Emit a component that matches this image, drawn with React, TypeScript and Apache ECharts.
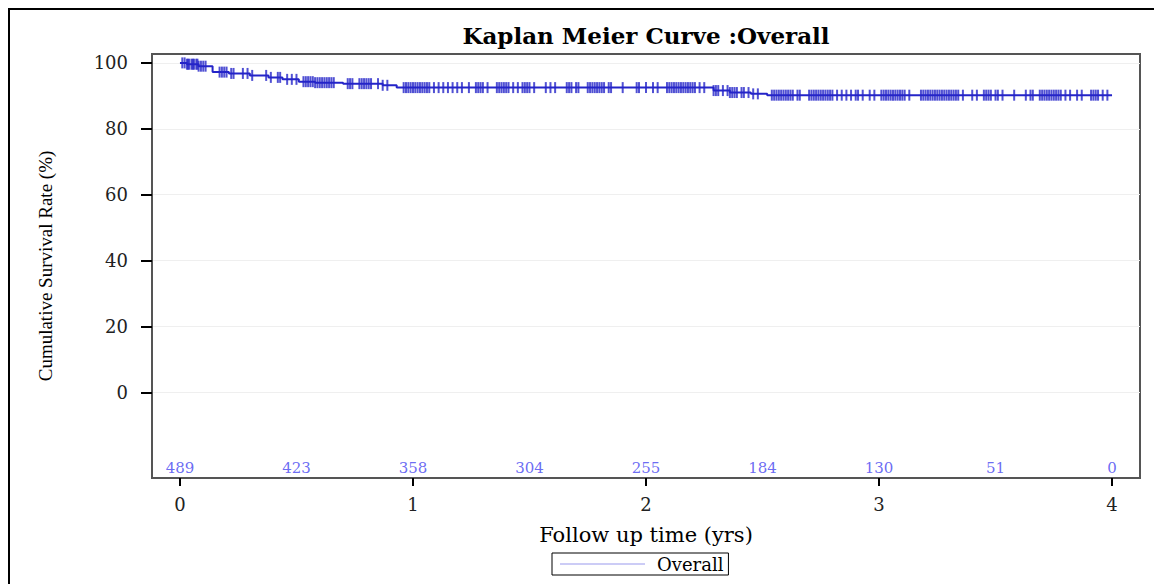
import React, { useEffect, useRef } from "react";
import * as echarts from "echarts";

const title = "Kaplan Meier Curve :Overall";
const xName = "Follow up time (yrs)";
const yName = "Cumulative Survival Rate (%)";
const seriesName = "Overall";

const xTicks = [0, 1, 2, 3, 4];
const yTicks = [0, 20, 40, 60, 80, 100];

// step points of the survival curve (time in years, survival %)
const eventTimes = [0, 0.03, 0.08, 0.14, 0.21, 0.3, 0.38, 0.44, 0.51, 0.58, 0.7, 0.87, 0.93, 2.29, 2.36, 2.45, 2.52, 4.0];
const survival = [100, 99.6, 99.0, 97.2, 96.8, 96.2, 95.6, 95.0, 94.3, 94.0, 93.7, 93.2, 92.5, 91.6, 91.0, 90.6, 90.2, 90.2];

// censored observation times
const censorTimes = [
  0.01, 0.02, 0.03, 0.035, 0.04, 0.05, 0.055, 0.06, 0.07, 0.075, 0.08, 0.09, 0.1, 0.11,
  0.17, 0.18, 0.19, 0.2, 0.22, 0.23,
  0.27, 0.29, 0.31, 0.37, 0.39, 0.42, 0.43, 0.46, 0.48, 0.5,
  0.53, 0.54, 0.55, 0.56, 0.57, 0.58, 0.59, 0.6, 0.61, 0.62, 0.63, 0.64, 0.65, 0.66,
  0.72, 0.73, 0.74, 0.77, 0.78, 0.79, 0.8, 0.81, 0.82, 0.85, 0.87, 0.89,
  0.96, 0.97, 0.98, 0.99, 1.0, 1.01, 1.02, 1.03, 1.04, 1.05, 1.06, 1.07, 1.09, 1.11, 1.13, 1.15, 1.17, 1.19, 1.21,
  1.24, 1.27, 1.28, 1.29, 1.3, 1.32, 1.36, 1.37, 1.38, 1.39, 1.4, 1.41, 1.43, 1.45, 1.47, 1.48, 1.49, 1.5, 1.52,
  1.57, 1.59, 1.61, 1.66, 1.67, 1.68, 1.7, 1.71, 1.75, 1.76, 1.77, 1.78, 1.79, 1.8, 1.81, 1.82, 1.84, 1.85,
  1.9, 1.96, 1.97, 2.0, 2.03, 2.05, 2.09, 2.1, 2.11, 2.12, 2.13, 2.14, 2.15, 2.16, 2.17, 2.18, 2.19, 2.2, 2.21, 2.23, 2.25,
  2.29, 2.3, 2.31, 2.33, 2.35, 2.36, 2.37, 2.38, 2.39, 2.41, 2.42, 2.44, 2.46, 2.48,
  2.54, 2.55, 2.56, 2.57, 2.58, 2.59, 2.6, 2.61, 2.62, 2.63, 2.65, 2.66,
  2.7, 2.71, 2.72, 2.73, 2.74, 2.75, 2.76, 2.77, 2.78, 2.79, 2.8, 2.82, 2.84, 2.86, 2.88, 2.9, 2.91, 2.93, 2.96, 2.98,
  3.01, 3.02, 3.03, 3.04, 3.05, 3.06, 3.07, 3.08, 3.09, 3.1, 3.11, 3.13,
  3.18, 3.19, 3.2, 3.21, 3.22, 3.23, 3.24, 3.25, 3.26, 3.27, 3.28, 3.29, 3.3, 3.31, 3.32, 3.33, 3.34, 3.36,
  3.4, 3.42, 3.45, 3.46, 3.47, 3.48, 3.5, 3.51, 3.53, 3.58, 3.63, 3.65, 3.66,
  3.69, 3.7, 3.71, 3.72, 3.73, 3.74, 3.75, 3.76, 3.77, 3.78, 3.8, 3.82, 3.85, 3.87, 3.91, 3.92, 3.93, 3.94, 3.96, 3.98,
];

// numbers at risk
const riskTimes = [0, 0.5, 1, 1.5, 2, 2.5, 3, 3.5, 4];
const riskCounts = [489, 423, 358, 304, 255, 184, 130, 51, 0];
const riskRowValue = -23;

const CURVE = "#2424c8";
const SERIF = "'DejaVu Serif', 'Liberation Serif', serif";

function survivalAt(t: number): number {
  let s = survival[0];
  for (let i = 0; i < eventTimes.length; i++) {
    if (eventTimes[i] <= t) s = survival[i];
  }
  return s;
}

export default function App() {
  const ref = useRef<HTMLDivElement>(null);
  useEffect(() => {
    if (!ref.current) return;
    const chart = echarts.init(ref.current, undefined, { renderer: "svg" });
    chart.setOption({
      animation: false,
      backgroundColor: "#fff",
      graphic: [
        {
          type: "rect",
          shape: { x: 9, y: 9, width: 1170, height: 600 },
          style: { fill: "none", stroke: "#000", lineWidth: 2 },
          silent: true,
        },
        {
          type: "text",
          x: 646,
          y: 35,
          style: {
            text: title,
            fill: "#000",
            font: `bold 23px ${SERIF}`,
            textAlign: "center",
            textVerticalAlign: "middle",
          },
        },
      ],
      legend: {
        data: [{ name: seriesName, icon: "rect", itemStyle: { color: "#9a9aee" } }],
        left: 552,
        top: 553,
        padding: [2, 5, 2, 8],
        itemWidth: 85,
        itemHeight: 1,
        borderColor: "#000",
        borderWidth: 1,
        borderRadius: 0,
        textStyle: { fontFamily: SERIF, fontSize: 18, color: "#000", padding: [0, 0, 0, 7] },
      },
      grid: {
        left: 152,
        top: 54,
        right: 14,
        bottom: 106,
        show: true,
        borderColor: "#555",
        borderWidth: 2,
      },
      xAxis: {
        type: "value",
        min: -0.12,
        max: 4.12,
        name: xName,
        nameLocation: "middle",
        nameGap: 46,
        nameTextStyle: { fontFamily: SERIF, fontSize: 21, color: "#000" },
        axisLine: { show: true, onZero: false, lineStyle: { color: "#555", width: 2 } },
        axisTick: { show: true, length: 8, lineStyle: { color: "#000", width: 2 }, customValues: xTicks },
        axisLabel: { fontFamily: SERIF, fontSize: 18, color: "#222", margin: 17, customValues: xTicks },
        splitLine: { show: false },
      },
      yAxis: {
        type: "value",
        min: -26,
        max: 102.7,
        name: yName,
        nameLocation: "middle",
        nameGap: 97,
        nameTextStyle: { fontFamily: "'Liberation Serif', serif", fontSize: 19, color: "#000" },
        axisLine: { show: true, onZero: false, lineStyle: { color: "#555", width: 2 } },
        axisTick: { show: true, length: 11, lineStyle: { color: "#000", width: 2 }, customValues: yTicks },
        axisLabel: { fontFamily: SERIF, fontSize: 18, color: "#222", margin: 24, customValues: yTicks },
        splitLine: { show: true, lineStyle: { color: "#efefef", width: 1 } },
      },
      series: [
        {
          name: seriesName,
          type: "line",
          step: "end",
          symbol: "none",
          showSymbol: false,
          lineStyle: { color: CURVE, width: 2 },
          itemStyle: { color: CURVE },
          data: eventTimes.map((t, i) => [t, survival[i]]),
          z: 3,
        },
        {
          name: "censored",
          type: "scatter",
          symbol: "rect",
          symbolSize: [2, 11],
          itemStyle: { color: CURVE },
          data: censorTimes.map((t) => [t, survivalAt(t)]),
          z: 4,
        },
        {
          name: "atrisk",
          type: "scatter",
          symbolSize: 0,
          data: riskTimes.map((t, i) => ({ value: [t, riskRowValue], label: { formatter: String(riskCounts[i]) } })),
          label: {
            show: true,
            position: "inside",
            fontFamily: SERIF,
            fontSize: 15,
            color: "#4545f0",
          },
          z: 5,
        },
      ],
    });
    return () => chart.dispose();
  }, []);
  return <div ref={ref} style={{ position: "fixed", left: 0, top: 0, width: 1154, height: 584 }} />;
}
